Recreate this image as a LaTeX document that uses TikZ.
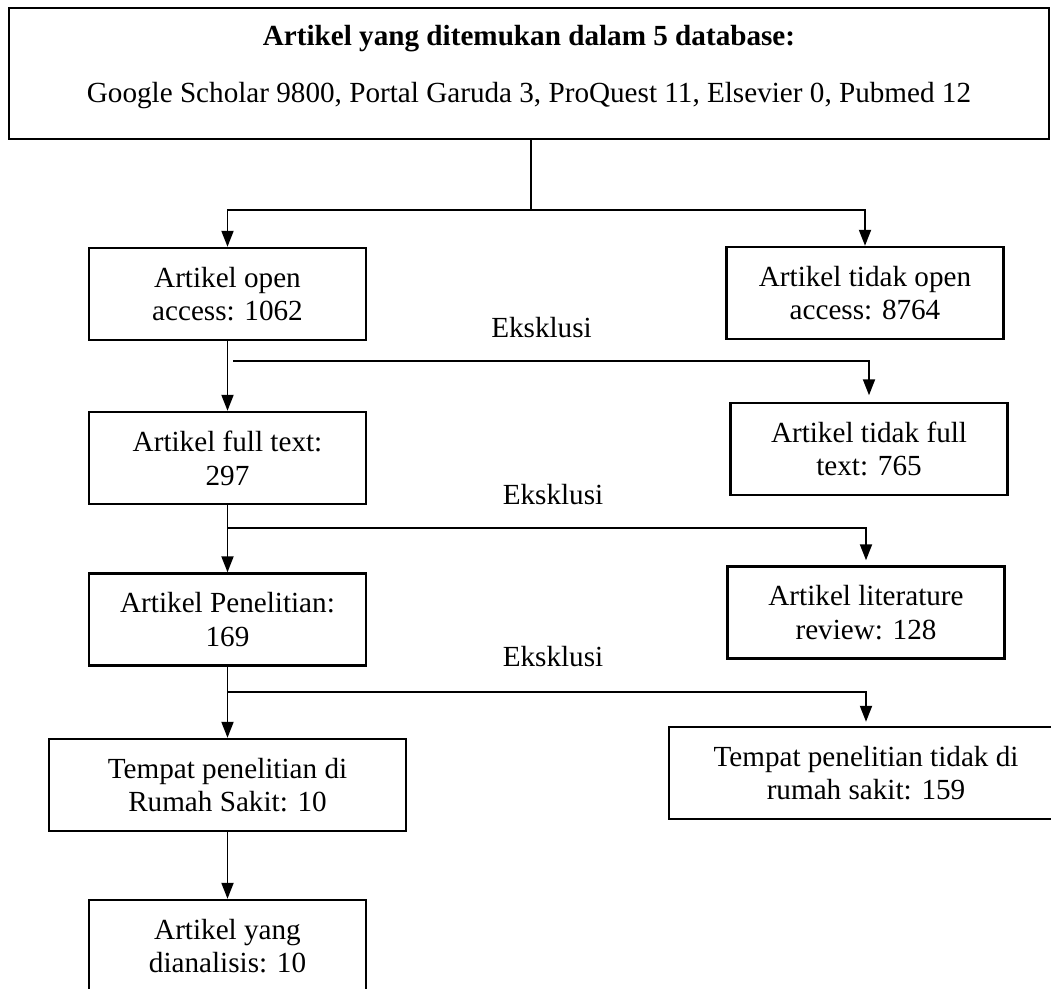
\documentclass[tikz,border=0pt]{standalone}
\usepackage{fontspec}
\setmainfont{Liberation Serif}
\usetikzlibrary{arrows.meta}

\begin{document}
\begin{tikzpicture}[x=0.02cm, y=-0.02cm, >={Triangle[length=0.32cm, width=0.24cm]},
    every node/.style={font=\fontsize{16.6}{19.2}\selectfont},
    box/.style={draw, rectangle, line width=1.4pt, align=center, minimum width=5.54cm, minimum height=1.84cm, inner sep=0pt},
    link/.style={line width=1.1pt}]
    \useasboundingbox (0,0) rectangle (1051,988);

    \node[box, minimum width=20.8cm, minimum height=2.62cm] (db) at (529,73.5) {\textbf{Artikel yang ditemukan dalam 5 database:}\\[13pt]Google Scholar 9800, Portal Garuda 3, ProQuest 11, Elsevier 0, Pubmed 12\\[-8pt]\mbox{}};
    \node[box] (open) at (227.5,294) {Artikel open\\access: 1062};
    \node[box] (closed) at (865,293) {Artikel tidak open\\access: 8764};
    \node[box] (full) at (227.5,458) {Artikel full text:\\297};
    \node[box] (nofull) at (869,449) {Artikel tidak full\\text: 765};
    \node[box] (research) at (227.5,619.5) {Artikel Penelitian:\\169};
    \node[box] (review) at (866,612.5) {Artikel literature\\review: 128};
    \node[box, minimum width=7.14cm] (hospital) at (227.5,785) {Tempat penelitian di\\Rumah Sakit: 10};
    \node[box, minimum width=7.88cm] (nohospital) at (866,773) {Tempat penelitian tidak di\\rumah sakit: 159};
    \node[box] (analyzed) at (227.5,946) {Artikel yang\\dianalisis: 10};

    \node (excl1) at (541.5,328) {Eksklusi};
    \node (excl2) at (553,495) {Eksklusi};
    \node (excl3) at (553,657) {Eksklusi};

    \coordinate (split) at (531,210);
    \coordinate (fork1) at (233,361);
    \coordinate (fork2) at (227.5,528);
    \coordinate (fork3) at (227.5,692);

    \draw[link] (split |- db.south) -- (split);
    \draw[link, ->] (split) -| (open);
    \draw[link, ->] (split) -| (closed);
    \draw[link, ->] (open) -- (full);
    \draw[link, ->, shorten >=0.13cm] (fork1) -| (nofull);
    \draw[link, ->] (full) -- (research);
    \draw[link, ->, shorten >=0.1cm] (fork2) -| (review);
    \draw[link, ->] (research) -- (hospital);
    \draw[link, ->, shorten >=0.08cm] (fork3) -| (nohospital);
    \draw[link, ->] (hospital) -- (analyzed);
\end{tikzpicture}
\end{document}
